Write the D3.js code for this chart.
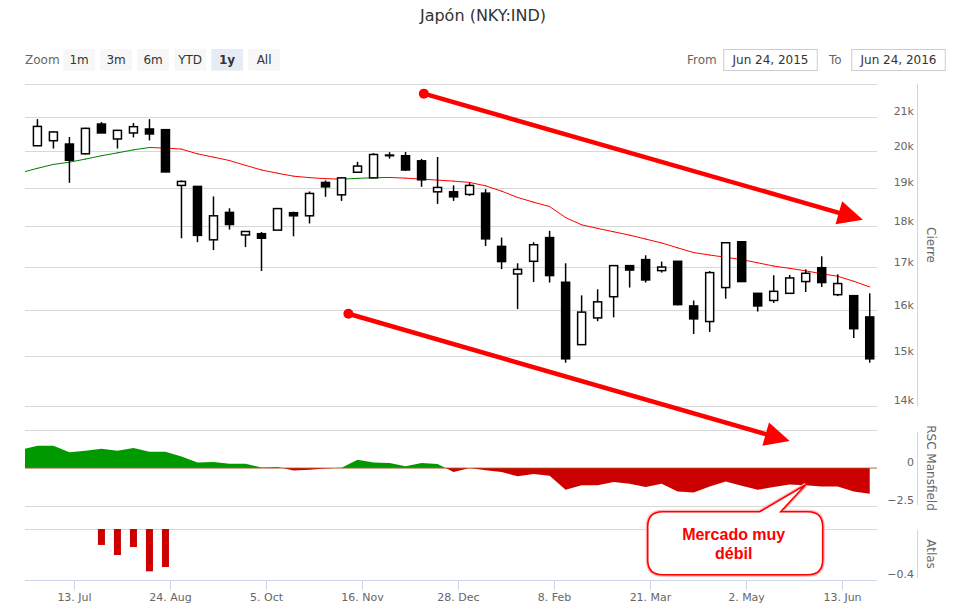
<!DOCTYPE html>
<html>
<head>
<meta charset="utf-8">
<script src="https://cdn.jsdelivr.net/npm/d3@7"></script>
<style>
  body { margin: 0; background: #fff; }
  svg { display: block; font-family: "DejaVu Sans", Verdana, sans-serif; }
</style>
</head>
<body>
<div id="chart"></div>
<script>
// weekly bars (first week only feeds the indicators, it sits left of the view)
const weeks = [
  "2015-06-20","2015-06-27","2015-07-04","2015-07-11","2015-07-18","2015-07-25","2015-08-01","2015-08-08","2015-08-15",
  "2015-08-22","2015-08-29","2015-09-05","2015-09-12","2015-09-19","2015-09-26","2015-10-03","2015-10-10","2015-10-17",
  "2015-10-24","2015-10-31","2015-11-07","2015-11-14","2015-11-21","2015-11-28","2015-12-05","2015-12-12","2015-12-19",
  "2015-12-26","2016-01-02","2016-01-09","2016-01-16","2016-01-23","2016-01-30","2016-02-06","2016-02-13","2016-02-20",
  "2016-02-27","2016-03-05","2016-03-12","2016-03-19","2016-03-26","2016-04-02","2016-04-09","2016-04-16","2016-04-23",
  "2016-04-30","2016-05-07","2016-05-14","2016-05-21","2016-05-28","2016-06-04","2016-06-11","2016-06-18","2016-06-25"
];
const open = [null,
  20173,20317,20222,19946,20798,20366,20539,20654,20634,19081,19054,17678,18372,17799,17831,17920,18364,18284,
  19161,18830,19437,19284,19912,19893,19751,18910,18910,18841,18875,17516,16850,17153,17734,16656,15259,15842,
  16321,17049,17194,16930,17153,16111,15762,16532,17630,16399,16235,16399,16672,17000,16368,16345,15864];
const high = [null,
  20942,20585,20424,20690,20856,20630,20827,20942,20654,19215,19054,18788,18478,17886,17872,18470,18390,18920,
  19215,19303,19724,19965,19992,20000,19804,19858,19081,19150,18981,17734,17105,17620,17903,17105,16352,16492,
  17049,17049,17298,17146,17160,16235,16920,17606,17630,16399,16820,16827,16960,17274,16843,16345,16399];
const low = [null,
  20173,20096,19150,19930,20539,20096,20412,20326,19445,17717,17620,17426,17935,17499,16920,17920,17765,18088,
  18777,18671,19437,19284,19812,19472,19043,18592,18671,18804,17523,16967,16041,16663,16649,14877,15259,15769,
  15855,16532,16649,16883,16125,15488,15531,16275,16672,15985,16181,16399,16429,16546,16335,15402,14877];
const close = [null,
  20729,20568,19767,20672,20539,20614,20721,20510,19445,19188,17789,18284,18062,17886,17717,18470,18284,18867,
  19043,19284,19606,19928,19893,19499,19231,19027,18777,19081,17702,17146,16960,17557,16813,14959,15972,16204,
  17049,16944,16710,17015,16141,15821,16883,17606,16672,16111,16445,16757,16867,16649,16626,15605,14959];
const movingAvg = [
  19429,19544,19652,19713,19799,19893,19973,20058,20124,20107,20078,19946,19853,19759,19625,19499,19410,19330,
  19290,19263,19250,19271,19287,19295,19276,19250,19223,19196,19161,19070,18928,18761,18637,18523,18239,18054,
  17964,17879,17794,17697,17601,17480,17364,17305,17250,17194,17117,17039,16984,16925,16855,16796,16679,16546];
const rscMansfield = [
  1.2,1.47,1.47,1.03,1.14,1.27,1.14,1.32,1.07,1.07,0.76,0.37,0.39,0.28,0.28,0.04,0.07,-0.16,
  -0.11,-0.03,0.02,0.55,0.37,0.33,0.11,0.33,0.26,-0.26,0.0,-0.14,-0.26,-0.55,-0.39,-0.51,-1.43,-1.14,
  -1.14,-0.92,-1.03,-1.25,-1.03,-1.54,-1.61,-1.21,-0.88,-1.16,-1.43,-1.25,-1.08,-1.14,-1.21,-1.21,-1.54,-1.69];
const atlas = [null,null,null,null,null,-0.125,-0.204,-0.141,-0.332,-0.298];

const dateTicks = ["2015-07-13","2015-08-24","2015-10-05","2015-11-16","2015-12-28","2016-02-08","2016-03-21","2016-05-02","2016-06-13"];
const priceTicks = [14000,15000,16000,17000,18000,19000,20000,21000,22000];
const rscTicks = [-2.5, 0, 2.5];
const atlasTicks = [-0.4, 0];

const rangeButtons = ["1m","3m","6m","YTD","1y","All"];
const selectedRange = "1y";
const rangeFrom = "Jun 24, 2015";
const rangeTo = "Jun 24, 2016";

// hand drawn trend arrows and callout, anchored in data space
const trendArrows = [
  {from: ["2015-12-13", 21704], to: ["2016-06-22", 18186]},
  {from: ["2015-11-10", 15935], to: ["2016-05-21", 13328]}
];
const callout = {at: ["2016-05-28", -1.1], lines: ["Mercado muy", "débil"]};

const width = 953, height = 607;
const plot = {left: 25, right: 877};
const axisX = 917;
const parse = d3.timeParse("%Y-%m-%d");
const dates = weeks.map(parse);

const x = d3.scaleTime()
  .domain([new Date(2015, 5, 21, 13, 41), new Date(2016, 5, 28, 4, 19)])
  .range([plot.left, plot.right]);
const yPrice = d3.scaleLog().domain([14000, 22000]).range([406, 84]);
const yRsc = d3.scaleLinear().domain([-2.5, 2.5]).range([506, 430]);
const yAtlas = d3.scaleLinear().domain([-0.4, 0]).range([580, 529]);

const svg = d3.create("svg").attr("width", width).attr("height", height).attr("viewBox", [0, 0, width, height]);

// ---- header ----
svg.append("text").attr("x", 483).attr("y", 21).attr("text-anchor", "middle").attr("font-size", 16).attr("fill", "#333").text("Japón (NKY:IND)");
svg.append("text").attr("x", 25).attr("y", 64).attr("font-size", 12).attr("fill", "#666").text("Zoom");
const btn = svg.append("g").selectAll("g").data(rangeButtons).join("g")
  .attr("transform", (d, i) => `translate(${63.3 + i * 37},49)`);
btn.append("rect").attr("width", 31.7).attr("height", 21.7).attr("fill", d => d === selectedRange ? "#e6ebf5" : "#f7f7f7");
btn.append("text").attr("x", 15.8).attr("y", 14.5).attr("text-anchor", "middle").attr("font-size", 12)
  .attr("font-weight", d => d === selectedRange ? "bold" : "normal").attr("fill", "#333").text(d => d);

[["From", 687, 723.8, rangeFrom], ["To", 829, 851.8, rangeTo]].forEach(([lab, lx, bx, val]) => {
  svg.append("text").attr("x", lx).attr("y", 64).attr("font-size", 12).attr("fill", "#666").text(lab);
  svg.append("rect").attr("x", bx).attr("y", 49.5).attr("width", 93.5).attr("height", 21).attr("fill", "#fff").attr("stroke", "#ccc");
  svg.append("text").attr("x", bx + 46.7).attr("y", 64).attr("text-anchor", "middle").attr("font-size", 12).attr("fill", "#333").text(val);
});

// ---- grids ----
const grid = svg.append("g").attr("stroke", "#d8d8d8").attr("shape-rendering", "crispEdges");
const hline = (g, y) => g.append("line").attr("x1", plot.left).attr("x2", plot.right).attr("y1", y).attr("y2", y);
priceTicks.forEach(v => hline(grid, yPrice(v)));
rscTicks.forEach(v => hline(grid, yRsc(v)));
atlasTicks.filter(v => v === 0).forEach(v => hline(grid, yAtlas(v)));

// ---- right axes ----
const axes = svg.append("g").attr("font-size", 11).attr("fill", "#666");
const axisLine = (y0, y1) => axes.append("line").attr("x1", axisX).attr("x2", axisX).attr("y1", y0).attr("y2", y1)
  .attr("stroke", "#ccd6eb").attr("shape-rendering", "crispEdges");
const tickLabels = (ticks, scale, fmt) => {
  const top = scale.domain()[1];
  axes.append("g").selectAll("text").data(ticks.filter(d => d < top)).join("text")
    .attr("x", 914).attr("y", d => scale(d) - 2).attr("text-anchor", "end").text(fmt);
};
axisLine(84, 406);
axisLine(432, 505);
axisLine(530, 578);
tickLabels(priceTicks, yPrice, d => d / 1000 + "k");
tickLabels(rscTicks, yRsc, d3.format(""));
tickLabels(atlasTicks, yAtlas, d3.format(""));
[["Cierre", 245], ["RSC Mansfield", 468], ["Atlas", 554]].forEach(([t, cy]) => {
  axes.append("text").attr("transform", `translate(931,${cy}) rotate(90)`).attr("text-anchor", "middle")
    .attr("dominant-baseline", "central").attr("font-size", 12).text(t);
});

// ---- x axis ----
const xa = svg.append("g").attr("transform", "translate(0,580)");
xa.append("line").attr("x1", plot.left).attr("x2", plot.right).attr("stroke", "#ccd6eb").attr("shape-rendering", "crispEdges");
const tk = xa.selectAll("g").data(dateTicks.map(parse)).join("g").attr("transform", d => `translate(${Math.round(x(d)) + 0.5},0)`);
tk.append("line").attr("y2", 10).attr("stroke", "#ccd6eb");
tk.append("text").attr("y", 20.5).attr("text-anchor", "middle").attr("font-size", 11).attr("fill", "#666").text(d3.timeFormat("%-d. %b"));

// ---- clip paths ----
const defs = svg.append("defs");
defs.append("clipPath").attr("id", "clip-main").append("rect").attr("x", plot.left).attr("y", 83).attr("width", plot.right - plot.left).attr("height", 324);
defs.append("clipPath").attr("id", "clip-pos").append("rect").attr("x", plot.left).attr("y", 430).attr("width", plot.right - plot.left).attr("height", yRsc(0) - 430);
defs.append("clipPath").attr("id", "clip-neg").append("rect").attr("x", plot.left).attr("y", yRsc(0)).attr("width", plot.right - plot.left).attr("height", 506 - yRsc(0));

// ---- moving average, green while rising, red while falling ----
const ma = svg.append("g").attr("clip-path", "url(#clip-main)");
const seg = d3.pairs(d3.range(movingAvg.length));
ma.selectAll("line").data(seg).join("line")
  .attr("x1", ([a]) => x(dates[a])).attr("y1", ([a]) => yPrice(movingAvg[a]))
  .attr("x2", ([, b]) => x(dates[b])).attr("y2", ([, b]) => yPrice(movingAvg[b]))
  .attr("stroke", ([a, b]) => movingAvg[b] >= movingAvg[a] ? "#008000" : "#ff0000")
  .attr("stroke-width", 1).attr("stroke-linecap", "round");

// ---- candlesticks ----
const bars = d3.range(dates.length).filter(i => open[i] != null);
const cg = svg.append("g").attr("clip-path", "url(#clip-main)").selectAll("g").data(bars).join("g")
  .attr("transform", i => `translate(${x(dates[i])},0)`);
cg.append("line").attr("y1", i => yPrice(high[i])).attr("y2", i => yPrice(low[i])).attr("stroke", "#000").attr("stroke-width", 1.5);
cg.append("rect").attr("x", -4).attr("width", 8)
  .attr("y", i => yPrice(Math.max(open[i], close[i])))
  .attr("height", i => Math.max(0.5, Math.abs(yPrice(open[i]) - yPrice(close[i]))))
  .attr("fill", i => close[i] >= open[i] ? "#fff" : "#000")
  .attr("stroke", "#000").attr("stroke-width", 1.5);

// ---- RSC Mansfield area ----
const area = d3.area().x((d, i) => x(dates[i])).y0(yRsc(0)).y1(d => yRsc(d));
svg.append("path").datum(rscMansfield).attr("d", area).attr("fill", "#009900").attr("clip-path", "url(#clip-pos)");
svg.append("path").datum(rscMansfield).attr("d", area).attr("fill", "#cc0000").attr("clip-path", "url(#clip-neg)");
svg.append("line").attr("x1", plot.left).attr("x2", plot.right).attr("y1", yRsc(0)).attr("y2", yRsc(0))
  .attr("stroke", "#b5651d").attr("stroke-width", 1).attr("opacity", 0.8);

// ---- Atlas columns ----
svg.append("g").selectAll("rect").data(d3.range(atlas.length).filter(i => atlas[i] != null)).join("rect")
  .attr("x", i => x(dates[i]) - 3.5).attr("width", 7)
  .attr("y", yAtlas(0)).attr("height", i => yAtlas(atlas[i]) - yAtlas(0))
  .attr("fill", "#cc0000");

// ---- annotations ----
const ann = svg.append("g").attr("fill", "#ff0000");
trendArrows.forEach(a => {
  const x0 = x(parse(a.from[0])), y0 = yPrice(a.from[1]);
  const x1 = x(parse(a.to[0])), y1 = yPrice(a.to[1]);
  const ang = Math.atan2(y1 - y0, x1 - x0), head = 25, half = 12;
  const bx = x1 - head * Math.cos(ang), by = y1 - head * Math.sin(ang);
  ann.append("line").attr("x1", x0).attr("y1", y0).attr("x2", bx + 2 * Math.cos(ang)).attr("y2", by + 2 * Math.sin(ang))
    .attr("stroke", "#ff0000").attr("stroke-width", 4.5);
  ann.append("circle").attr("cx", x0).attr("cy", y0).attr("r", 5);
  ann.append("path").attr("d", `M${x1},${y1}L${bx - half * Math.sin(ang)},${by + half * Math.cos(ang)}L${bx + half * Math.sin(ang)},${by - half * Math.cos(ang)}Z`);
});

const tipX = x(parse(callout.at[0])), tipY = yRsc(callout.at[1]);
const bl = tipX - 158, bt = tipY + 27, bw = 175, bh = 63, r = 15;
const bubble = `M${bl + r},${bt}L${tipX - 46},${bt}L${tipX},${tipY}L${tipX - 25},${bt}L${bl + bw - r},${bt}` +
  `Q${bl + bw},${bt} ${bl + bw},${bt + r}L${bl + bw},${bt + bh - r}Q${bl + bw},${bt + bh} ${bl + bw - r},${bt + bh}` +
  `L${bl + r},${bt + bh}Q${bl},${bt + bh} ${bl},${bt + bh - r}L${bl},${bt + r}Q${bl},${bt} ${bl + r},${bt}Z`;
svg.append("path").attr("d", bubble).attr("fill", "#fff").attr("stroke", "#ffb3b3").attr("stroke-width", 4);
svg.append("path").attr("d", bubble).attr("fill", "#fff").attr("stroke", "#ff0000").attr("stroke-width", 1.6);
svg.append("g").selectAll("text").data(callout.lines).join("text")
  .attr("x", bl + 86).attr("y", (d, i) => bt + 28 + i * 19).attr("text-anchor", "middle")
  .attr("font-family", "'Liberation Sans', Arial, sans-serif").attr("font-weight", "bold").attr("font-size", 16)
  .attr("fill", "#ff0000").text(d => d);

document.getElementById("chart").appendChild(svg.node());
</script>
</body>
</html>
